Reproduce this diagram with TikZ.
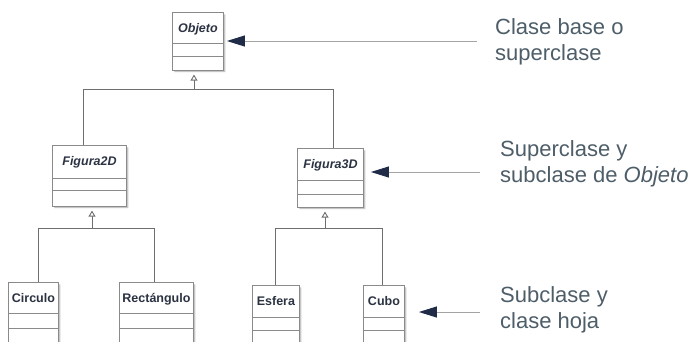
\documentclass[tikz,border=0pt]{standalone}
\usepackage{fontspec}
\setmainfont{Liberation Sans}
\usetikzlibrary{arrows.meta,shapes.multipart,shadows}
\definecolor{boxline}{HTML}{8A8A8A}
\definecolor{treeline}{HTML}{6E6E6E}
\definecolor{ptrline}{HTML}{A4A4A4}
\definecolor{headcol}{HTML}{1F2B47}
\definecolor{clstext}{HTML}{2B3242}
\definecolor{labtext}{HTML}{4E5E69}
\begin{document}
\begin{tikzpicture}[x=1pt,y=-1pt,
  cls/.style={rectangle split, rectangle split parts=3, draw=boxline, line width=0.9pt,
    fill=white, inner xsep=0pt, inner ysep=0pt, anchor=north west,
    rectangle split empty part height=1pt,
    font=\fontsize{12.5}{14}\selectfont\bfseries, text=clstext,
    drop shadow={shadow xshift=2pt, shadow yshift=-2pt, fill=black!22, opacity=1}},
  tree/.style={draw=treeline, line width=0.9pt},
  inh/.style={tree, -{Triangle[open, length=6pt, width=7pt, fill=white]}, shorten >=4pt},
  ptr/.style={draw=ptrline, line width=1pt, -{Triangle[length=18pt, width=11pt, color=headcol]}},
  lab/.style={anchor=base west, inner sep=0pt, align=left,
    font=\fontsize{22}{25.5}\selectfont, text=labtext}]
\useasboundingbox[fill=white] (0,0) rectangle (691,341);

% classes
\node[cls, minimum width=51pt] (objeto) at (172,12)
  {\rule[-10pt]{0pt}{30pt}\textit{Objeto}\nodepart{two}\rule{0pt}{12pt}\nodepart{three}\rule{0pt}{13pt}};
\node[cls, minimum width=74pt] (fig2d) at (52,145)
  {\rule[-12pt]{0pt}{32pt}\textit{Figura2D}\nodepart{two}\rule{0pt}{11pt}\nodepart{three}\rule{0pt}{15pt}};
\node[cls, minimum width=66pt] (fig3d) at (297,148)
  {\rule[-11pt]{0pt}{31pt}\textit{Figura3D}\nodepart{two}\rule{0pt}{13pt}\nodepart{three}\rule{0pt}{12pt}};
\node[cls, minimum width=50pt] (circ) at (8,282)
  {\rule[-10pt]{0pt}{30pt}Circulo\nodepart{two}\rule{0pt}{14pt}\nodepart{three}\rule{0pt}{14pt}};
\node[cls, minimum width=74pt] (rect) at (119,282)
  {\rule[-10pt]{0pt}{30pt}Rectángulo\nodepart{two}\rule{0pt}{14pt}\nodepart{three}\rule{0pt}{14pt}};
\node[cls, minimum width=47pt] (esf) at (252,285)
  {\rule[-11pt]{0pt}{31pt}Esfera\nodepart{two}\rule{0pt}{12pt}\nodepart{three}\rule{0pt}{13pt}};
\node[cls, minimum width=41pt] (cubo) at (363,285)
  {\rule[-11pt]{0pt}{31pt}Cubo\nodepart{two}\rule{0pt}{12pt}\nodepart{three}\rule{0pt}{13pt}};

% inheritance tree: Objeto
\coordinate (b0) at (194,89);
\coordinate (b0l) at (83,89);
\coordinate (b0r) at (333,89);
\draw[inh] (b0) -- (b0 |- objeto.south);
\draw[tree] (b0l) -- (b0r);
\draw[tree] (b0l) -- (b0l |- fig2d.north);
\draw[tree] (b0r) -- (b0r |- fig3d.north);

% Figura2D
\coordinate (b1) at (92,228);
\coordinate (b1l) at (38,228);
\coordinate (b1r) at (154,228);
\draw[inh] (b1) -- (b1 |- fig2d.south);
\draw[tree] (b1l) -- (b1r);
\draw[tree] (b1l) -- (b1l |- circ.north);
\draw[tree] (b1r) -- (b1r |- rect.north);

% Figura3D
\coordinate (b2) at (325,228);
\coordinate (b2l) at (275,228);
\coordinate (b2r) at (382,228);
\draw[inh] (b2) -- (b2 |- fig3d.south);
\draw[tree] (b2l) -- (b2r);
\draw[tree] (b2l) -- (b2l |- esf.north);
\draw[tree] (b2r) -- (b2r |- cubo.north);

% labels (anchor at baseline of the last line)
\node[lab] (l1) at (495,60) {Clase base o\\superclase};
\node[lab] (l2) at (500,182) {Superclase y\\subclase de \textit{Objeto}};
\node[lab] (l3) at (500,328) {Subclase y\\clase hoja};

% pointers
\coordinate (p1) at (477,41);
\coordinate (p2) at (480,172);
\coordinate (p3) at (480,312);
\draw[ptr, shorten >=3pt] (p1) -- (objeto.east |- p1);
\draw[ptr, shorten >=7pt] (p2) -- (fig3d.east |- p2);
\draw[ptr, shorten >=14pt] (p3) -- (cubo.east |- p3);
\end{tikzpicture}
\end{document}
